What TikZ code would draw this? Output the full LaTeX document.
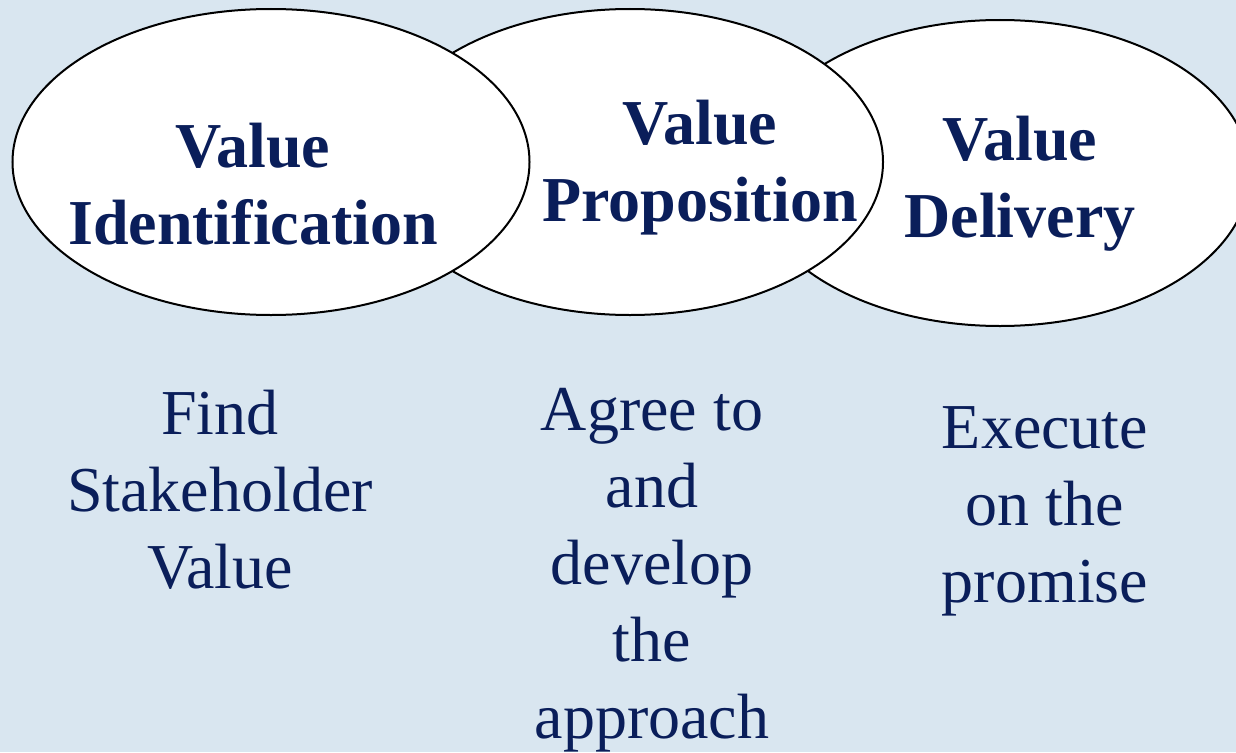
\documentclass[tikz,border=0pt]{standalone}
\usepackage{fontspec}
\setmainfont{Liberation Serif}
\usetikzlibrary{shapes.geometric}
\definecolor{bgblue}{RGB}{217,230,240}
\definecolor{navy}{RGB}{10,30,90}
\begin{document}
\begin{tikzpicture}[x=1pt,y=-1pt,
  oval/.style={ellipse, draw=black, line width=2pt, fill=white, inner sep=0pt},
  head/.style={text=navy, align=center, inner sep=0pt, anchor=base, font=\fontsize{64}{77}\selectfont\bfseries},
  desc/.style={text=navy, align=center, inner sep=0pt, anchor=base, font=\fontsize{64}{77}\selectfont}]
\fill[bgblue] (0,0) rectangle (1236,752);
\useasboundingbox (0,0) rectangle (1236,752);
\node[oval, minimum width=500pt, minimum height=306pt] (deliv) at (1000,173) {};
\node[oval, minimum width=506pt, minimum height=306pt] (prop) at (630,162) {};
\node[oval, minimum width=517pt, minimum height=306pt] (ident) at (271,162) {};
\node[head] (tident) at (253,244) {Value\\Identification};
\node[head] (tprop) at (700,221) {Value\\Proposition};
\node[head] (tdeliv) at (1020,237) {Value\\Delivery};
\node[desc] (dident) at (220,588) {Find\\Stakeholder\\Value};
\node[desc] (dprop) at (652,738) {Agree to\\and\\develop\\the\\approach};
\node[desc] (ddeliv) at (1045,602) {Execute\\on the\\promise};
\end{tikzpicture}
\end{document}
